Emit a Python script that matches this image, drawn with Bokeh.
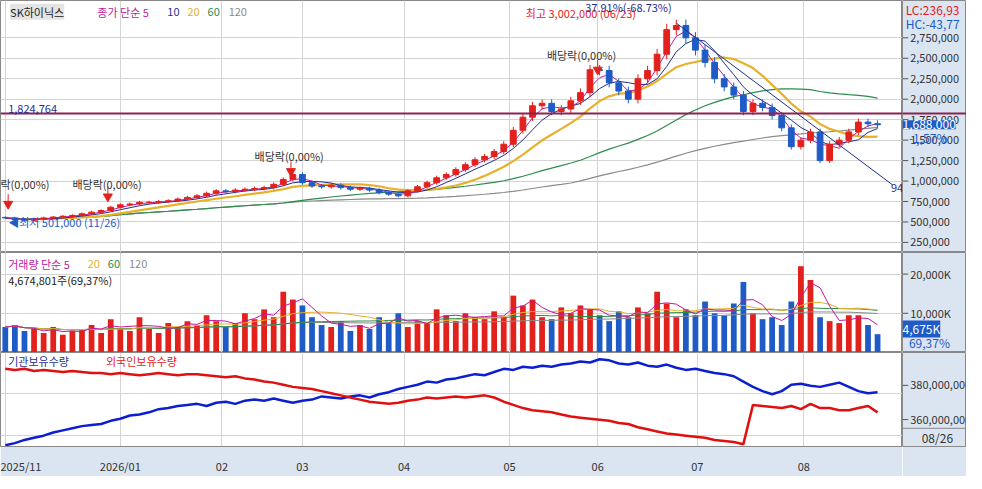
import numpy as np
import pandas as pd
from bokeh.plotting import figure
from bokeh.layouts import column, row
from bokeh.models import Range1d, FixedTicker, Label, Span, ColumnDataSource
from bokeh.core.properties import value
from bokeh.embed import file_html
from bokeh.resources import INLINE

# 종가 (단위: 백만원), 2거래일 간격
closes = [0.55, 0.53, 0.52, 0.54, 0.55, 0.56, 0.57, 0.58, 0.60, 0.62,
          0.64, 0.68, 0.71, 0.72, 0.74, 0.74, 0.75, 0.76, 0.78, 0.80,
          0.82, 0.85, 0.88, 0.87, 0.89, 0.90, 0.91, 0.92, 0.96, 1.02,
          1.08, 0.98, 0.94, 0.93, 0.95, 0.92, 0.90, 0.91, 0.89, 0.86,
          0.84, 0.82, 0.88, 0.93, 0.98, 1.04, 1.08, 1.14, 1.20, 1.26,
          1.30, 1.36, 1.45, 1.62, 1.78, 1.92, 1.95, 1.85, 1.88, 1.98,
          2.08, 2.36, 2.35, 2.20, 2.10, 2.00, 2.25, 2.35, 2.55, 2.85,
          2.90, 2.75, 2.60, 2.45, 2.25, 2.15, 2.05, 1.85, 1.95, 1.90,
          1.80, 1.65, 1.42, 1.50, 1.60, 1.25, 1.45, 1.50, 1.60, 1.72,
          1.70, 1.688]
# 거래량 (천주)
volumes = [6500, 7000, 5500, 6000, 5000, 6500, 4500, 5500, 6000, 7000,
           5000, 8500, 6000, 5500, 9000, 6000, 5000, 7500, 6500, 8000,
           7000, 9500, 8000, 6500, 7500, 10000, 8500, 11000, 9000, 15500,
           13500, 12000, 9000, 7000, 6500, 8000, 5500, 7000, 6000, 9000,
           7500, 10000, 6500, 8000, 7500, 11000, 9500, 8000, 10000, 9000,
           8500, 10500, 9000, 14500, 12000, 13500, 9000, 8500, 11500, 10000,
           12000, 11000, 9500, 8000, 10500, 9000, 11500, 10000, 15500, 12500,
           9000, 11000, 9500, 13000, 10000, 9500, 12500, 18000, 10000, 8500,
           9000, 7000, 13000, 22000, 18500, 9000, 8000, 7500, 9500, 9500,
           7000, 4675]
# 기관보유수량 (백만주)
inst = [355.5, 356.5, 358.0, 359.0, 360.0, 361.5, 362.5, 363.5, 364.5, 365.0,
        365.5, 367.0, 368.0, 369.5, 370.0, 371.0, 372.5, 373.0, 374.0, 374.5,
        375.0, 374.0, 375.5, 376.0, 375.0, 376.5, 377.0, 376.5, 377.5, 376.5,
        375.5, 376.5, 377.0, 378.5, 378.0, 377.5, 378.5, 379.0, 378.0, 379.5,
        380.5, 382.0, 383.0, 384.0, 385.5, 385.0, 386.5, 387.0, 388.0, 389.0,
        388.5, 390.0, 391.5, 391.0, 392.5, 392.0, 393.0, 392.5, 393.5, 394.0,
        395.0, 394.5, 396.0, 395.5, 394.0, 393.5, 394.5, 393.0, 392.5, 393.5,
        392.0, 391.0, 391.5, 390.5, 389.5, 389.0, 388.0, 385.5, 383.0, 381.0,
        379.5, 381.0, 384.0, 384.5, 383.5, 383.0, 384.0, 385.0, 383.0, 381.0,
        380.0, 380.5]
# 외국인보유수량 (백만주)
frgn = [391.5, 391.0, 391.5, 390.5, 391.0, 390.5, 390.0, 390.5, 390.0, 389.5,
        389.5, 389.0, 389.5, 389.0, 388.5, 389.0, 389.5, 389.0, 388.5, 389.0,
        389.0, 388.5, 388.0, 387.5, 388.0, 387.0, 386.5, 385.5, 385.0, 384.0,
        383.0, 382.5, 382.0, 381.0, 380.0, 379.0, 378.0, 377.0, 376.0, 375.5,
        375.0, 375.5, 376.5, 377.0, 378.0, 377.5, 378.0, 378.5, 378.0, 378.5,
        379.0, 378.0, 376.0, 374.5, 373.0, 372.0, 371.5, 371.0, 370.0, 369.0,
        368.5, 368.0, 367.5, 367.0, 366.0, 365.5, 364.0, 363.0, 362.0, 361.0,
        360.5, 360.0, 359.5, 359.0, 358.0, 357.5, 357.0, 356.0, 374.5, 374.0,
        373.5, 373.0, 374.0, 372.5, 375.0, 373.0, 373.0, 372.0, 372.0, 373.0,
        374.0, 371.0]
month_pos = [0, 12, 22.6, 31, 41.6, 52.6, 61.8, 72.2, 83.3]
month_labels = ["2025/11", "2026/01", "02", "03", "04", "05", "06", "07", "08"]
price_ticks = [250e3 * k for k in range(1, 12)]
vol_ticks = [10000, 20000]
hold_ticks = [360e6, 380e6]

FONT = "Noto Sans CJK KR"
RED, BLUE = "#e3211c", "#1e5bc6"
MAIN_W, SIDE_W = 902, 64
xr = Range1d(-0.5, 93.6)

n = len(closes)
x = np.arange(n)
c = np.array(closes) * 1e6
o = np.concatenate([[c[0] * 1.01], c[:-1]])
up = c >= o
hi = np.maximum(o, c) * 1.025
lo = np.minimum(o, c) * 0.975
s = pd.Series(c)
ma = {k: s.rolling(w, min_periods=1).mean() for k, w in [(5, 3), (10, 5), (20, 10), (60, 30), (120, 60)]}
ma_col = {5: "#c2189b", 10: "#1f2f8f", 20: "#e8b12c", 60: "#2a8c4a", 120: "#8a8a8a"}
ma_w = {5: 1, 10: 1, 20: 2.2, 60: 1.2, 120: 1.2}


def base(h, yr, yticks, bottom=False):
    p = figure(width=MAIN_W, height=h, x_range=xr, y_range=yr, output_backend="svg",
               toolbar_location=None, min_border_left=0, min_border_right=0,
               min_border_top=0, min_border_bottom=24 if bottom else 0)
    p.border_fill_color = "#dbe5f1"
    p.outline_line_color = "#888888"
    p.yaxis.visible = False
    p.ygrid.ticker = FixedTicker(ticks=yticks)
    p.xaxis.ticker = FixedTicker(ticks=month_pos)
    p.xaxis.major_label_overrides = {k: v for k, v in zip(month_pos, month_labels)}
    p.xaxis.major_label_text_font = FONT
    p.xaxis.major_label_text_font_size = "11px"
    p.xaxis.major_label_text_color = "#333333"
    p.xaxis.minor_tick_line_color = None
    p.xaxis.major_tick_line_color = None
    p.xaxis.axis_line_color = "#888888"
    p.xgrid.ticker = FixedTicker(ticks=month_pos)
    p.grid.grid_line_color = "#d4d4d4"
    if not bottom:
        p.xaxis.visible = False
    return p


def side(h, lo_, hi_, ticks, texts, extra=0):
    span = hi_ - lo_
    frame_h = h - extra
    yr = Range1d(lo_ - span * extra / frame_h, hi_)
    p = figure(width=SIDE_W, height=h, x_range=Range1d(0, 1), y_range=yr, output_backend="svg",
               toolbar_location=None, min_border=0)
    p.axis.visible = False
    p.grid.visible = False
    p.background_fill_color = "#dbe5f1"
    p.border_fill_color = "#dbe5f1"
    p.outline_line_color = "#888888"
    p.segment(0, ticks, 0.09, ticks, color="#555555")
    p.text(0.12, ticks, texts, text_font=value(FONT), text_font_size="11px",
           text_color="#333333", text_baseline="middle")
    return p


def lab(p, x, y, text, color, size="11px", bg=None, align="left"):
    l = Label(x=x, y=y, text=text, text_color=color, text_font=FONT, text_font_size=size,
              text_align=align, text_baseline="middle")
    if bg:
        l.background_fill_color = bg
    p.add_layout(l)


# 가격 패널
P_LO, P_HI = 127e3, 3.206e6
p1 = base(252, Range1d(P_LO, P_HI), price_ticks)
for k in [120, 60, 20, 10, 5]:
    p1.line(x, ma[k], color=ma_col[k], line_width=ma_w[k])
src = ColumnDataSource(dict(x=x, top=np.maximum(o, c), bot=np.minimum(o, c), hi=hi, lo=lo,
                            col=np.where(up, RED, BLUE)))
p1.segment("x", "hi", "x", "lo", color="col", source=src)
p1.vbar("x", 0.6, "top", "bot", fill_color="col", line_color="col", source=src)
p1.add_layout(Span(location=1824764, dimension="width", line_color="#8b2252", line_width=2))
p1.line([70, 92.6], [2.93e6, 0.95e6], color="#1f2f8f", line_width=1)
lab(p1, 92.4, 0.92e6, "94", "#1f2f8f")
lab(p1, 0.3, 1.88e6, "1,824,764", "#1f2f8f")
lab(p1, 54.3, 3.05e6, "최고 3,002,000 (06/23)", RED)
lab(p1, 60.5, 3.13e6, "37.91%(-68.73%)", "#1f2f8f")
lab(p1, 56.5, 2.54e6, "배당락(0,00%)", "#333333")
lab(p1, 7, 0.97e6, "배당락(0,00%)", "#333333")
lab(p1, 26, 1.3e6, "배당락(0,00%)", "#333333")
lab(p1, -0.5, 0.97e6, "락(0,00%)", "#333333")
lab(p1, 0.3, 0.5e6, "◀최저 501,000 (11/26)", BLUE)
for ax_, ay in [(0.3, 0.72e6), (10.7, 0.81e6), (29.8, 1.12e6), (61.8, 2.36e6)]:
    p1.scatter([ax_], [ay], marker="inverted_triangle", size=9, color=RED)
    p1.segment([ax_], [ay + 0.12e6], [ax_], [ay], color=RED)
lab(p1, 0.5, 3.07e6, "SK하이닉스", "#222222", bg="#e4e4e4")
lab(p1, 9.6, 3.07e6, "종가 단순 5", ma_col[5])
lab(p1, 16.9, 3.07e6, "10", ma_col[10])
lab(p1, 19.0, 3.07e6, "20", ma_col[20])
lab(p1, 21.1, 3.07e6, "60", ma_col[60])
lab(p1, 23.3, 3.07e6, "120", ma_col[120])
s1 = side(252, P_LO, P_HI, price_ticks, [f"{int(t):,}" for t in price_ticks])
s1.add_layout(Span(location=1824764, dimension="width", line_color="#8b2252", line_width=2))
lab(s1, 0.05, 3.1e6, "LC:236,93", RED, size="12px")
lab(s1, 0.05, 2.93e6, "HC:-43,77", BLUE, size="12px")
lab(s1, 0.0, 1.688e6, "1,688,000", "white", size="12px", bg=BLUE)
lab(s1, 0.1, 1.53e6, "-1,57%", BLUE, size="12px")

# 거래량 패널
V_LO, V_HI = 0, 25500
p2 = base(100, Range1d(V_LO, V_HI), vol_ticks)
p2.vbar(x, 0.6, volumes, 0, fill_color=np.where(up, RED, BLUE).tolist(), line_color=None)
vs = pd.Series(volumes)
for k, w in [(120, 60), (60, 30), (20, 10), (5, 3)]:
    p2.line(x, vs.rolling(w, min_periods=1).mean(), color=ma_col[k], line_width=1)
lab(p2, 0.3, 22500, "거래량 단순 5", ma_col[5])
lab(p2, 8.6, 22500, "20", ma_col[20])
lab(p2, 10.7, 22500, "60", ma_col[60])
lab(p2, 12.9, 22500, "120", ma_col[120])
lab(p2, 0.3, 18500, "4,674,801주(69,37%)", "#222222")
s2 = side(100, V_LO, V_HI, vol_ticks, ["10,000K", "20,000K"])
lab(s2, 0.0, 6000, "4,675K", "white", size="12px", bg=BLUE)
lab(s2, 0.1, 2600, "69,37%", BLUE, size="12px")

# 보유수량 패널
H_LO, H_HI = 354.9e6, 399.2e6
p3 = base(124, Range1d(H_LO, H_HI), hold_ticks, bottom=True)
p3.line(x, np.array(inst) * 1e6, color="#0b1fd0", line_width=2.5)
p3.line(x, np.array(frgn) * 1e6, color="#e01010", line_width=2.5)
lab(p3, 0.3, 395e6, "기관보유수량", "#1f2f8f")
lab(p3, 10.5, 395e6, "외국인보유수량", RED)
s3 = side(124, H_LO, H_HI, hold_ticks, [f"{int(t):,}" for t in hold_ticks], extra=24)
s3.add_layout(Span(location=H_LO, dimension="width", line_color="#888888", line_width=1))
lab(s3, 0.3, H_LO - 5.3e6, "08/26", "#333333", size="12px")

p = column(row(p1, s1, spacing=0), row(p2, s2, spacing=0), row(p3, s3, spacing=0), spacing=0)
open("out.html", "w").write(file_html(p, INLINE))
